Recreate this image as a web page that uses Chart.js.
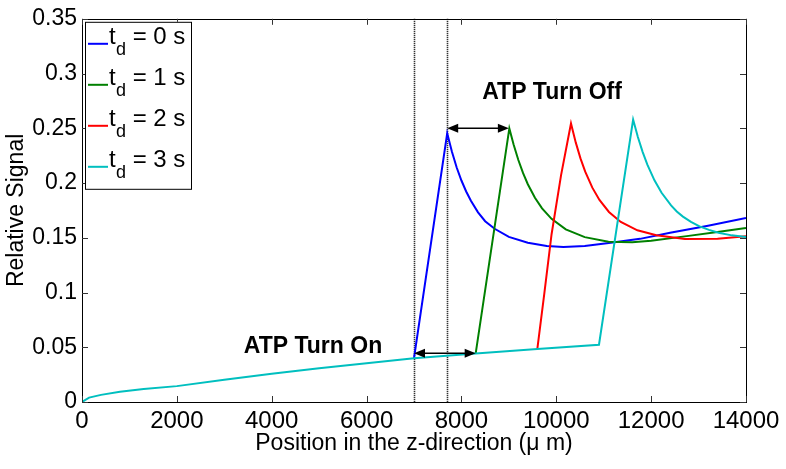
<!DOCTYPE html>
<html><head><meta charset="utf-8">
<script src="https://cdn.jsdelivr.net/npm/chart.js@4.4.0/dist/chart.umd.min.js"></script>
<style>html,body{margin:0;padding:0;background:#fff;}#wrap{width:786px;height:469px;position:relative;}</style>
</head><body><div id="wrap"><canvas id="c"></canvas></div>
<script>
// ---- data ----
const xTickValues = [0, 2000, 4000, 6000, 8000, 10000, 12000, 14000];
const yTickValues = [0, 0.05, 0.1, 0.15, 0.2, 0.25, 0.3, 0.35];
const seriesDelays = ['0', '1', '2', '3'];
const seriesColors = ['#0000ff', '#008000', '#ff0000', '#00bfbf'];

const blueX = [7000, 7700, 7800, 7900, 8000, 8100, 8200, 8350, 8500, 8700, 9000, 9400, 9800, 10150, 10600, 11150, 11765, 12400, 13200, 14000];
const blueY = [0.040, 0.2454, 0.2285, 0.2142, 0.2023, 0.1923, 0.1838, 0.1732, 0.1651, 0.1582, 0.1508, 0.1455, 0.1425, 0.1416, 0.1425, 0.1455, 0.149, 0.1545, 0.161, 0.168];

const greenX = [8300, 9010, 9100, 9200, 9300, 9400, 9550, 9700, 9900, 10200, 10600, 11100, 11600, 12000, 12750, 13400, 14000];
const greenY = [0.0442, 0.2499, 0.2351, 0.2210, 0.2090, 0.1989, 0.1865, 0.1769, 0.1673, 0.1577, 0.1506, 0.1463, 0.1458, 0.1472, 0.1515, 0.1552, 0.159];

const redX = [9600, 9750, 9900, 10100, 10310, 10410, 10510, 10610, 10760, 10910, 11110, 11360, 11710, 12110, 12710, 13400, 14000];
const redY = [0.0483, 0.100, 0.153, 0.207, 0.2544, 0.2371, 0.2225, 0.2104, 0.1958, 0.1846, 0.1736, 0.1644, 0.1568, 0.1523, 0.1488, 0.149, 0.1515];

const cyanX = [0, 150, 400, 800, 1300, 2000, 3000, 4000, 5000, 6000, 7000, 8300, 9600, 10900, 11620, 11720, 11820, 11920, 12070, 12220, 12420, 12540, 12670, 12840, 13020, 13220, 13420, 13700, 14000];
const cyanY = [0, 0.004, 0.0065, 0.0093, 0.0118, 0.0145, 0.0203, 0.0258, 0.0308, 0.0355, 0.040, 0.0442, 0.0483, 0.0523, 0.258, 0.2421, 0.2285, 0.2168, 0.2025, 0.1911, 0.1795, 0.1740, 0.1693, 0.1645, 0.1604, 0.1572, 0.1546, 0.1522, 0.1507];

const markerX = [7000, 7700];          // dotted vertical lines
const turnOnX = [7000, 8300];  const turnOnY = 0.0445;
const turnOffX = [7700, 9000]; const turnOffY = 0.25;
const turnOnLabel = 'ATP Turn On';   const turnOnAt = [4870, 0.0505];
const turnOffLabel = 'ATP Turn Off'; const turnOffAt = [9910, 0.2823];

const xs = [blueX, greenX, redX, cyanX];
const ys = [blueY, greenY, redY, cyanY];

const FONT = "'Liberation Sans', Arial, Helvetica, sans-serif";
Chart.defaults.font.family = FONT;
Chart.defaults.color = '#000';

const datasets = xs.map((arr, i) => ({
  label: 't_d = ' + seriesDelays[i] + ' s',
  data: arr.map((x, k) => ({x: x, y: ys[i][k]})),
  borderColor: seriesColors[i],
  backgroundColor: seriesColors[i],
  borderWidth: 2,
  pointRadius: 0,
  tension: 0,
  fill: false,
  order: 3 - i
}));

function arrow(ctx, x0, y0, x1, y1) {
  const L = 11, H = 4.5;
  ctx.beginPath(); ctx.moveTo(x0 + L - 1, y0); ctx.lineTo(x1 - L + 1, y1); ctx.stroke();
  ctx.beginPath(); ctx.moveTo(x0, y0); ctx.lineTo(x0 + L, y0 - H); ctx.lineTo(x0 + L, y0 + H); ctx.closePath(); ctx.fill();
  ctx.beginPath(); ctx.moveTo(x1, y1); ctx.lineTo(x1 - L, y1 - H); ctx.lineTo(x1 - L, y1 + H); ctx.closePath(); ctx.fill();
}

const decor = {
  id: 'decor',
  beforeDatasetsDraw(chart) {
    const {ctx, chartArea: a, scales: {x, y}} = chart;
    ctx.save();
    ctx.strokeStyle = '#000'; ctx.lineWidth = 1.6; ctx.setLineDash([1, 1]);
    markerX.forEach(v => {
      const px = Math.round(x.getPixelForValue(v)) + 0.5;
      ctx.beginPath(); ctx.moveTo(px, a.top); ctx.lineTo(px, a.bottom); ctx.stroke();
    });
    ctx.restore();
  },
  afterDatasetsDraw(chart) {
    const {ctx, chartArea: a, scales: {x, y}} = chart;
    ctx.save();
    ctx.strokeStyle = '#000'; ctx.lineWidth = 1;
    ctx.strokeRect(Math.round(a.left) + 0.5, Math.round(a.top) + 0.5, Math.round(a.right - a.left), Math.round(a.bottom - a.top));
    ctx.strokeStyle = '#333'; ctx.lineWidth = 1;
    const T = 6;
    xTickValues.forEach(v => {
      const px = Math.round(x.getPixelForValue(v)) + 0.5;
      ctx.beginPath(); ctx.moveTo(px, a.bottom); ctx.lineTo(px, a.bottom - T); ctx.stroke();
      ctx.beginPath(); ctx.moveTo(px, a.top); ctx.lineTo(px, a.top + T); ctx.stroke();
    });
    yTickValues.forEach(v => {
      const py = Math.round(y.getPixelForValue(v)) + 0.5;
      ctx.beginPath(); ctx.moveTo(a.left, py); ctx.lineTo(a.left + T, py); ctx.stroke();
      ctx.beginPath(); ctx.moveTo(a.right, py); ctx.lineTo(a.right - T, py); ctx.stroke();
    });
    ctx.strokeStyle = '#000'; ctx.fillStyle = '#000'; ctx.lineWidth = 1.6;
    arrow(ctx, x.getPixelForValue(turnOnX[0]), y.getPixelForValue(turnOnY), x.getPixelForValue(turnOnX[1]), y.getPixelForValue(turnOnY));
    arrow(ctx, x.getPixelForValue(turnOffX[0]), y.getPixelForValue(turnOffY), x.getPixelForValue(turnOffX[1]), y.getPixelForValue(turnOffY));
    ctx.font = 'bold 23px ' + FONT;
    ctx.textAlign = 'center'; ctx.textBaseline = 'middle';
    ctx.fillText(turnOnLabel, x.getPixelForValue(turnOnAt[0]), y.getPixelForValue(turnOnAt[1]));
    ctx.fillText(turnOffLabel, x.getPixelForValue(turnOffAt[0]), y.getPixelForValue(turnOffAt[1]));
    // legend
    const lx = a.left + 3, ly = a.top + 3, lw = 106, lh = 167;
    ctx.fillStyle = '#fff'; ctx.fillRect(lx, ly, lw, lh);
    ctx.strokeStyle = '#000'; ctx.lineWidth = 1;
    ctx.strokeRect(lx + 0.5, ly + 0.5, lw, lh);
    ctx.textAlign = 'left'; ctx.textBaseline = 'alphabetic';
    seriesDelays.forEach((d, i) => {
      const base = ly + 22 + i * 41;
      ctx.strokeStyle = seriesColors[i]; ctx.lineWidth = 2;
      ctx.beginPath(); ctx.moveTo(lx + 3, base); ctx.lineTo(lx + 23, base); ctx.stroke();
      ctx.fillStyle = '#000';
      ctx.font = '24px ' + FONT;
      ctx.fillText('t', lx + 24, base);
      ctx.font = '18px ' + FONT;
      ctx.fillText('d', lx + 31, base + 11);
      ctx.font = '24px ' + FONT;
      ctx.fillText(' = ' + d + ' s', lx + 41, base);
    });
    ctx.restore();
  }
};

new Chart(document.getElementById('c'), {
  type: 'line',
  data: {datasets: datasets},
  options: {
    responsive: true, maintainAspectRatio: false, animation: false,
    layout: {padding: {top: 14, right: 40, left: 0, bottom: 0}},
    plugins: {legend: {display: false}, tooltip: {enabled: false}},
    scales: {
      x: {
        type: 'linear', min: 0, max: 14000,
        afterBuildTicks: s => { s.ticks = xTickValues.map(v => ({value: v})); },
        afterFit: s => { s.height = 67; },
        grid: {display: false, drawTicks: false},
        border: {display: false},
        ticks: {font: {size: 24}, color: '#000', padding: 5, maxRotation: 0, autoSkip: false,
                callback: v => String(v)},
        title: {display: true, text: 'Position in the z-direction (\u03bc m)', font: {size: 23}, color: '#000', padding: {top: 0, bottom: 12}}
      },
      y: {
        type: 'linear', min: 0, max: 0.35,
        afterBuildTicks: s => { s.ticks = yTickValues.map(v => ({value: v})); },
        afterFit: s => { s.width = 82; },
        grid: {display: false, drawTicks: false},
        border: {display: false},
        ticks: {font: {size: 23}, color: '#000', padding: 5, autoSkip: false,
                callback: v => String(+Number(v).toFixed(2))},
        title: {display: true, text: 'Relative Signal', font: {size: 23}, color: '#000', padding: {top: 3, bottom: 0}}
      }
    }
  },
  plugins: [decor]
});
</script></body></html>
